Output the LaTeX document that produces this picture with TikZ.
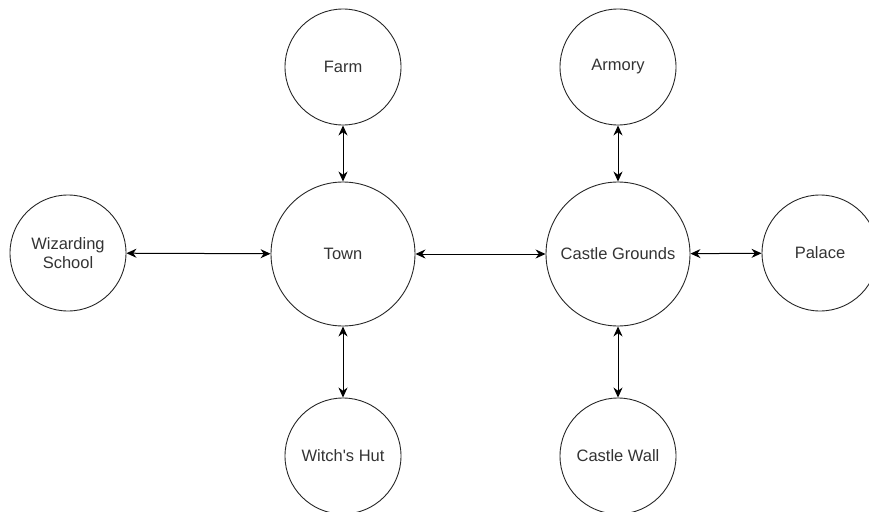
\documentclass[tikz,border=0pt]{standalone}
\usepackage{fontspec}
\setmainfont{Liberation Sans}
\usetikzlibrary{arrows.meta,positioning}
\definecolor{labelgray}{HTML}{333333}

\begin{document}
\begin{tikzpicture}
[x=1pt,y=-1pt,
place/.style={circle,draw=black!85,line width=0.9pt,text=labelgray,font=\fontsize{16.5}{19}\selectfont,align=center,inner sep=0pt,minimum size=116pt},
hub/.style={place,minimum size=144pt},
link/.style={{Stealth[length=10pt,width=9pt]}-{Stealth[length=10pt,width=9pt]},line width=1pt}]
\useasboundingbox (0,0) rectangle (869,511);
\node[hub] (town) at (343,254) {Town};
\node[hub] (grounds) at (618,254) {Castle Grounds};
\node[place] (farm) at (343,67) {Farm};
\node[place] (school) at (68,253) {Wizarding\\School};
\node[place] (hut) at (343,456) {Witch\textquotesingle s Hut};
\node[place] (armory) at (618,67) {Armory};
\node[place] (palace) at (820,253) {Palace};
\node[place] (wall) at (618,456) {Castle Wall};

\draw [link] (farm) -- (town);
\draw [link] (school) -- (town);
\draw [link] (town) -- (hut);
\draw [link] (town) -- (grounds);
\draw [link] (armory) -- (grounds);
\draw [link] (grounds) -- (palace);
\draw [link] (grounds) -- (wall);
\end{tikzpicture}
\end{document}
